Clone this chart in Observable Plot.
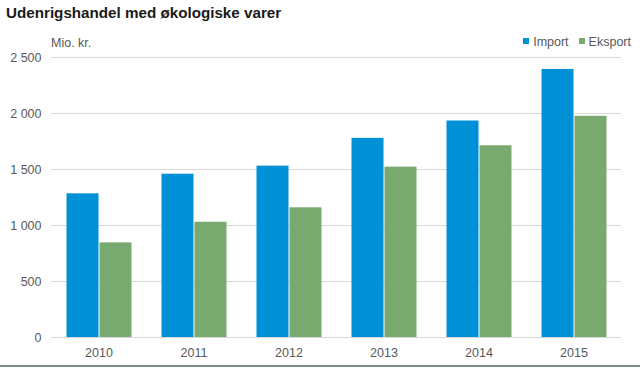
<!DOCTYPE html>
<html>
<head>
<meta charset="utf-8">
<script src="https://cdn.jsdelivr.net/npm/d3@7"></script>
<script src="https://cdn.jsdelivr.net/npm/@observablehq/plot@0.6"></script>
<style>
  html, body { margin: 0; padding: 0; background: #fff; }
  #wrap { position: relative; width: 640px; height: 373px; overflow: hidden; font-family: "Liberation Sans", Arial, sans-serif; }
  #title { position: absolute; left: 6px; top: 4px; font-weight: bold; font-size: 15.2px; color: #1a1a1a; white-space: nowrap; }
  #unit { position: absolute; left: 51px; top: 36px; font-size: 12.5px; color: #595959; }
  #legend { position: absolute; top: 35px; right: 9px; font-size: 12.5px; color: #595959; white-space: nowrap; }
  #legend span.sw { display: inline-block; width: 6px; height: 6px; margin-right: 4px; vertical-align: 2px; }
  #legend span.item { margin-left: 10px; }
  #chart { position: absolute; left: 0; top: 28px; }
  #rule { position: absolute; left: 0; top: 365px; width: 640px; height: 2px; background: #7c8c8c; }
</style>
</head>
<body>
<div id="wrap">
  <div id="title">Udenrigshandel med økologiske varer</div>
  <div id="unit">Mio. kr.</div>
  <div id="legend"></div>
  <div id="chart"></div>
  <div id="rule"></div>
</div>
<script>
const years = ["2010", "2011", "2012", "2013", "2014", "2015"];
const importValues = [1283, 1458, 1530, 1778, 1933, 2393];
const eksportValues = [845, 1029, 1158, 1521, 1712, 1975];
const seriesNames = ["Import", "Eksport"];
const seriesColors = ["#0090d5", "#78aa6f"];
const yTicks = [0, 500, 1000, 1500, 2000, 2500];

const data = years.flatMap((yr, i) => [
  {year: yr, series: "Import", value: importValues[i]},
  {year: yr, series: "Eksport", value: eksportValues[i]}
]);

const fmt = d3.formatLocale({decimal: ",", thousands: " ", grouping: [3], currency: ["", " kr."]}).format(",");

const legend = document.getElementById("legend");
seriesNames.forEach((s, i) => {
  const item = document.createElement("span");
  item.className = "item";
  const sw = document.createElement("span");
  sw.className = "sw";
  sw.style.background = seriesColors[i];
  item.appendChild(sw);
  item.appendChild(document.createTextNode(s));
  legend.appendChild(item);
});

const chart = Plot.plot({
  width: 640,
  height: 337,
  marginTop: 29,
  marginBottom: 28,
  marginLeft: 50,
  marginRight: 19,
  style: {fontFamily: "'Liberation Sans', Arial, sans-serif", fontSize: "12.5px", color: "#595959", background: "transparent"},
  fx: {domain: years, padding: 0, label: null, axis: null},
  x: {domain: seriesNames, axis: null, paddingInner: 0, paddingOuter: 0.41},
  y: {domain: [0, 2500], axis: null, label: null},
  color: {domain: seriesNames, range: seriesColors},
  marks: [
    Plot.gridY(yTicks, {stroke: "#d9d9d9", strokeOpacity: 1}),
    Plot.axisY(yTicks, {tickSize: 0, tickPadding: 10, tickFormat: fmt, label: null, fill: "#595959"}),
    Plot.barY(data, {fx: "year", x: "series", y: "value", fill: "series", insetLeft: 0.5, insetRight: 0.5}),
    Plot.axisFx({anchor: "bottom", tickSize: 0, tickPadding: 11, label: null, fill: "#595959"})
  ]
});
document.getElementById("chart").appendChild(chart);
</script>
</body>
</html>
